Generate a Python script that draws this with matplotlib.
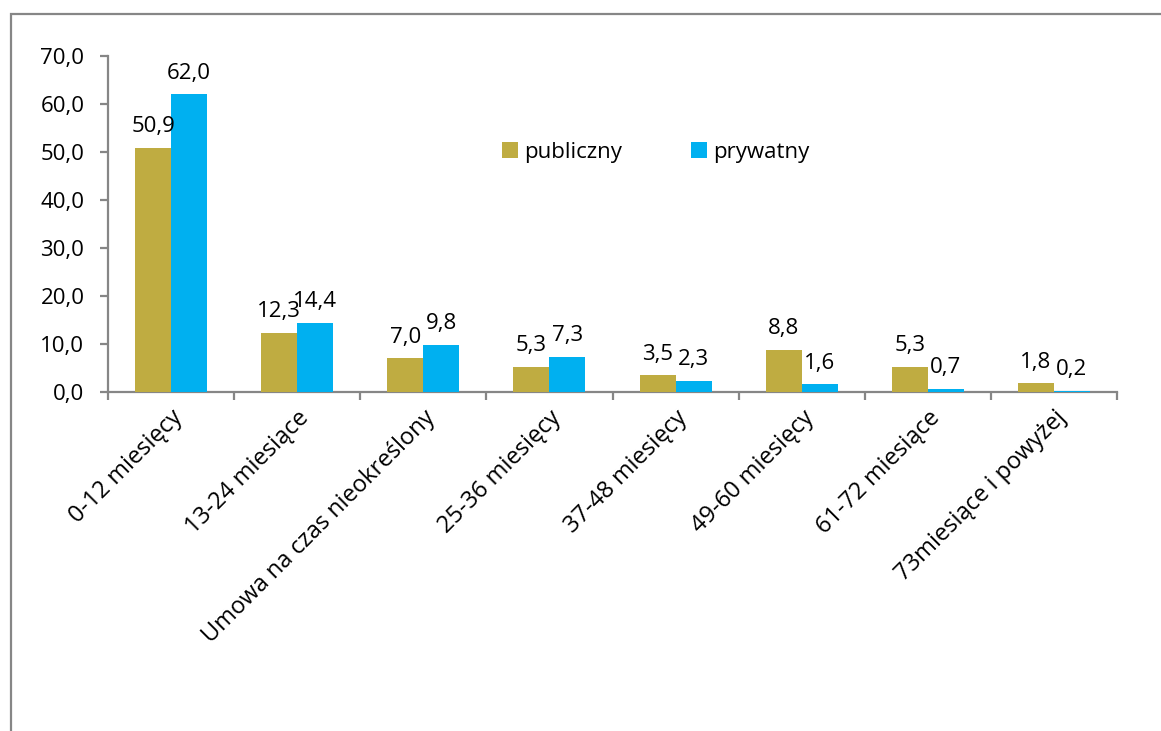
"""Okres trwania umowy: sektor publiczny vs prywatny (odsetek)."""
import matplotlib
matplotlib.use("Agg")
import matplotlib.pyplot as plt
import numpy as np
from matplotlib.patches import Rectangle

# ─── Data ─────────────────────────────────────────────────────────────────────
categories = [
    "0-12 miesięcy",
    "13-24 miesiące",
    "Umowa na czas nieokreślony",
    "25-36 miesięcy",
    "37-48 miesięcy",
    "49-60 miesięcy",
    "61-72 miesiące",
    "73miesiące i powyżej",
]
publiczny = [50.9, 12.3, 7.0, 5.3, 3.5, 8.8, 5.3, 1.8]
prywatny = [62.0, 14.4, 9.8, 7.3, 2.3, 1.6, 0.7, 0.2]
y_ticks = [0, 10, 20, 30, 40, 50, 60, 70]

C_PUB = "#BFAC41"
C_PRY = "#00B0F0"
GREY = "#868686"

plt.rcParams["font.family"] = ["Open Sans", "DejaVu Sans"]
FS = 16
FS_CAT = 17


def pl(v: float) -> str:
    return f"{v:.1f}".replace(".", ",")


fig = plt.figure(figsize=(11.61, 7.31), dpi=100)
# outer chart-area border (left and top visible)
fig.patches.append(Rectangle((11 / 1161, -0.1), 1.2, (731 - 14) / 731 + 0.1,
                             transform=fig.transFigure, fill=False,
                             edgecolor=GREY, linewidth=1.6))

ax = fig.add_axes([108 / 1161, 1 - 392 / 731, (1117 - 108) / 1161, (392 - 56) / 731])

x = np.arange(len(categories))
w = 0.285
b1 = ax.bar(x - w / 2, publiczny, w, color=C_PUB, label="publiczny", zorder=3)
b2 = ax.bar(x + w / 2, prywatny, w, color=C_PRY, label="prywatny", zorder=3)

for bars, vals in ((b1, publiczny), (b2, prywatny)):
    for r, v in zip(bars, vals):
        ax.text(r.get_x() + r.get_width() / 2, v + 2.2, pl(v),
                ha="center", va="bottom", fontsize=FS, color="black")

ax.set_xlim(-0.5, len(categories) - 0.5)
ax.set_ylim(0, 70)
ax.set_yticks(y_ticks)
ax.set_yticklabels([pl(t) for t in y_ticks], fontsize=FS)

ax.set_xticks(np.arange(len(categories) + 1) - 0.5)
ax.set_xticklabels([])
ax.set_xticks(x, minor=True)
ax.set_xticklabels(categories, minor=True, rotation=45, ha="right",
                   rotation_mode="anchor", fontsize=FS_CAT)
ax.tick_params(axis="x", which="minor", length=0, pad=10)
ax.tick_params(axis="x", which="major", length=6, width=1.6, color=GREY)
ax.tick_params(axis="y", length=6, width=1.6, color=GREY, pad=11)

for s in ("top", "right"):
    ax.spines[s].set_visible(False)
for s in ("left", "bottom"):
    ax.spines[s].set_color(GREY)
    ax.spines[s].set_linewidth(1.6)

ax.legend(loc="center", bbox_to_anchor=(0.543, 0.714), ncol=2, frameon=False,
          fontsize=FS, handlelength=0.7, handleheight=0.7, handletextpad=0.3,
          columnspacing=3.1)

fig.savefig("out.png", dpi=100)
